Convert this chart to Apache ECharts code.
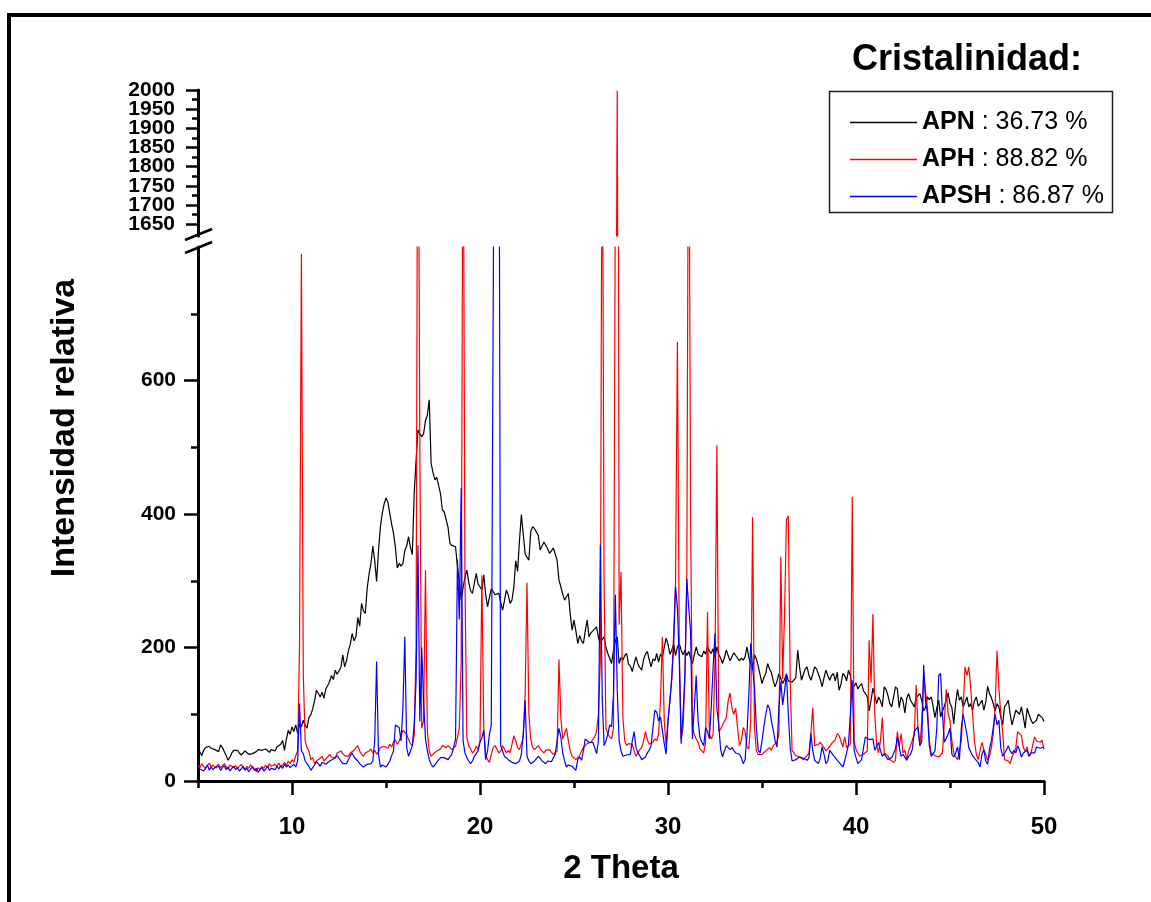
<!DOCTYPE html>
<html><head><meta charset="utf-8">
<script src="https://cdn.jsdelivr.net/npm/echarts@6/dist/echarts.min.js"></script>
<style>html,body{margin:0;padding:0;background:#fff}#c{width:1151px;height:902px}</style>
</head><body><div id="c"></div>
<script>
// sampling grid of the patterns (2 Theta, degrees)
const thetaStart = 5, thetaStep = 0.1;

// APN (black) — one row per degree, 0.1° steps
const apn = [
40,44,38,46,50,48,52,49,51,47,
46,44,54,50,44,38,31,36,42,46,
44,46,42,39,41,45,44,40,42,41,
41,44,47,49,46,44,48,46,43,47,
48,45,51,49,55,61,46,62,76,70,
81,74,84,71,86,81,91,84,79,95,
99,108,120,136,131,126,133,124,138,143,
149,158,152,166,160,161,170,189,171,180,
195,205,221,210,216,245,232,266,255,251,
289,310,326,352,330,299,345,380,401,415,
424,418,401,385,371,350,319,326,322,326,
345,352,366,350,339,431,480,526,520,516,
520,540,548,571,476,462,451,455,456,430,
406,403,401,380,356,353,351,351,321,300,
271,290,305,316,298,285,281,296,311,295,
291,286,309,280,261,275,288,284,279,281,
281,268,256,270,286,279,266,271,290,330,
314,360,399,370,341,335,331,374,381,378,
376,368,346,352,358,356,348,341,345,349,
340,331,301,291,280,271,276,281,250,226,
241,225,206,218,210,206,225,241,216,222,
225,228,231,215,206,212,216,200,191,184,
176,196,210,216,176,185,181,188,191,175,
172,164,176,186,175,170,166,182,190,194,
182,171,183,180,191,178,190,186,200,214,
205,190,196,205,188,201,206,196,189,196,
188,194,194,176,189,201,190,192,186,195,
190,201,195,191,198,185,201,190,184,176,
185,196,188,180,186,192,188,186,180,184,
181,186,201,185,175,166,189,183,172,171,
146,155,161,176,168,162,150,141,150,161,
161,146,152,160,150,151,148,146,155,196,
170,151,160,168,171,158,151,160,171,168,
166,152,141,155,166,158,151,158,161,150,
163,136,145,161,158,150,166,158,137,142,
147,138,143,146,135,131,126,105,121,139,
128,116,126,120,111,141,137,128,116,111,
126,141,138,110,126,120,102,124,131,121,
116,111,125,126,131,120,105,110,126,122,
126,112,95,110,121,96,105,112,121,132,
116,110,86,116,137,121,126,111,118,126,
111,116,106,120,126,112,116,121,106,118,
142,131,125,116,105,116,111,96,84,111,
115,121,100,84,95,106,105,100,111,96,
79,109,100,92,86,84,91,100,101,95,
89];

// APH (red)
const aph = [
24,20,26,22,19,23,27,21,24,20,
22,25,20,23,26,21,18,24,22,20,
23,19,22,25,20,17,22,19,24,21,
18,14,20,17,22,19,24,20,26,22,
20,25,22,27,21,24,28,23,30,26,
32,28,38,45,200,790,160,60,50,45,
32,35,26,30,28,34,37,30,33,36,
40,36,38,34,42,40,45,41,38,37,
37,42,40,46,50,53,45,40,37,42,
44,45,48,42,46,40,44,50,48,52,
53,49,55,51,58,62,55,60,68,76,
74,70,62,56,53,68,200,1200,500,79,
90,316,74,45,37,40,42,45,44,48,
53,52,50,53,55,47,49,52,65,80,
180,1100,300,65,53,48,42,45,52,47,
60,308,80,40,32,28,40,50,53,48,
42,45,53,48,42,46,42,55,68,60,
50,47,56,65,130,297,100,62,50,47,
50,53,48,45,42,46,48,47,43,40,
40,45,182,95,63,65,79,60,45,37,
35,32,34,38,45,50,53,56,55,58,
60,66,74,100,180,1100,300,79,70,66,
63,80,900,1998,234,313,95,60,53,56,
58,55,45,37,42,47,50,60,74,62,
55,53,58,63,60,70,120,216,90,53,
90,120,153,220,297,658,200,63,80,153,
300,1150,400,80,70,63,58,48,45,42,
58,253,70,63,70,180,503,74,78,84,
84,95,120,132,110,100,109,80,53,60,
80,74,51,48,90,395,80,45,40,41,
40,42,45,47,50,46,53,55,59,70,
336,153,250,391,397,150,46,42,38,37,
36,35,32,34,38,42,70,110,53,51,
55,58,56,50,45,48,52,56,58,62,
71,68,60,51,66,50,52,55,426,60,
47,42,37,38,40,42,45,211,147,250,
100,53,42,60,95,42,41,38,32,30,
28,31,74,51,71,42,46,32,45,53,
53,70,144,76,53,90,158,160,110,60,
42,41,38,37,36,38,42,90,137,101,
90,60,42,36,32,34,60,110,171,158,
171,140,100,60,40,32,45,58,47,40,
31,37,50,70,110,195,140,101,74,32,
32,30,26,36,42,50,74,71,68,50,
45,51,37,41,42,66,60,58,58,61,
47];

// APSH (blue)
const apsh = [
22,18,20,15,19,24,16,21,17,20,
18,22,16,20,23,17,21,15,19,22,
17,20,15,18,22,16,19,14,18,21,
16,19,13,17,20,15,18,22,16,19,
20,17,22,18,23,19,25,21,24,20,
22,25,21,30,116,45,41,30,26,22,
16,20,24,29,26,22,28,30,25,27,
30,28,33,35,38,39,30,26,28,26,
32,38,42,36,34,30,26,24,21,23,
25,24,26,30,60,179,40,21,24,22,
21,25,30,38,45,84,86,80,60,110,
216,50,37,45,53,84,150,353,89,200,
120,63,45,32,25,21,24,28,32,35,
37,35,33,32,36,40,50,63,332,242,
439,60,42,35,30,26,30,37,35,45,
58,65,76,32,45,70,84,700,1300,1400,
1200,53,45,37,35,32,30,28,27,26,
26,30,40,70,121,37,30,26,28,30,
32,37,34,30,28,26,30,32,29,30,
40,60,79,66,42,30,21,24,26,22,
21,16,32,36,31,45,63,61,58,60,
58,50,41,60,354,126,53,60,70,84,
81,130,279,136,60,45,37,37,39,41,
40,60,74,50,42,38,32,31,36,42,
46,53,80,106,103,90,96,95,56,40,
90,120,155,200,291,260,181,56,100,161,
303,260,226,63,110,158,90,65,58,53,
80,74,63,110,170,221,109,84,47,36,
45,53,51,47,50,46,42,44,40,35,
26,32,70,130,206,170,140,80,46,42,
60,81,100,114,109,90,76,60,51,110,
149,114,135,161,100,50,30,28,32,34,
36,37,34,32,31,35,71,45,31,30,
26,35,51,40,26,30,46,42,38,35,
31,28,26,21,30,42,55,100,151,46,
35,26,24,32,50,66,68,62,61,63,
46,52,58,46,37,41,41,32,31,35,
37,48,66,51,37,40,38,31,37,40,
48,74,78,81,53,60,174,120,101,53,
37,36,45,80,158,161,100,58,60,70,
79,40,36,42,51,32,79,100,85,70,
50,44,38,34,31,28,21,40,47,30,
25,48,60,80,100,84,91,50,37,36,
46,53,45,41,46,42,53,46,36,42,
44,46,37,42,41,42,51,53,49,47,
51];

const seriesNames = ['APN', 'APH', 'APSH'];
const crystallinity = ['36.73 %', '88.82 %', '86.87 %'];
const seriesColors = ['#000000', '#ff0000', '#0000ff'];

const xMajorTicks = [10, 20, 30, 40, 50];
const xMinorTicks = [5, 15, 25, 35, 45];
const yLowMajorTicks = [0, 200, 400, 600];
const yLowMinorTicks = [100, 300, 500, 700];
const yUpMajorTicks = [1650, 1700, 1750, 1800, 1850, 1900, 1950, 2000];
const yUpMinorTicks = [1675, 1725, 1775, 1825, 1875, 1925, 1975];

// upper labels split over two coincident axes so that none is dropped as overlapping
const yUpLabelsA = yUpMajorTicks.filter((v, i) => i % 2 === 0);
const yUpLabelsB = yUpMajorTicks.filter((v, i) => i % 2 === 1);

const FONT = "'Liberation Sans', Arial, Helvetica, sans-serif";

function pairs(arr) {
  return arr.map((v, i) => [+(thetaStart + i * thetaStep).toFixed(2), v]);
}
const plain = (v) => String(v);

const axisLineStyle = { color: '#000', width: 3 };
const tickLine = { color: '#000', width: 2.5 };
const upLabelStyle = { formatter: plain, showMinLabel: true, showMaxLabel: true, hideOverlap: false,
  color: '#000', fontSize: 21, lineHeight: 18, fontWeight: 'bold', fontFamily: FONT, margin: 23 };

const chart = echarts.init(document.getElementById('c'), null, { renderer: 'canvas' });

const lowerSeries = [apn, aph, apsh].map((arr, k) => ({
  name: seriesNames[k], type: 'line', xAxisIndex: 1, yAxisIndex: 2,
  data: pairs(arr), showSymbol: false, symbol: 'none', clip: true,
  lineStyle: { color: seriesColors[k], width: 1.2 }, itemStyle: { color: seriesColors[k] },
  z: 2 + k
}));
const upperSeries = {
  name: 'APH', type: 'line', xAxisIndex: 0, yAxisIndex: 0,
  data: pairs(aph), showSymbol: false, symbol: 'none', clip: true,
  lineStyle: { color: seriesColors[1], width: 1.2 }, itemStyle: { color: seriesColors[1] }
};

chart.setOption({
  animation: false,
  backgroundColor: '#ffffff',
  grid: [
    { left: 198, right: 107, top: 90, height: 146, containLabel: false },
    { left: 198, right: 107, top: 247, height: 534, containLabel: false }
  ],
  xAxis: [
    { gridIndex: 0, type: 'value', min: 5, max: 50, show: false },
    { gridIndex: 1, type: 'value', min: 5, max: 50, position: 'bottom',
      axisLine: { lineStyle: axisLineStyle },
      axisTick: { customValues: xMajorTicks, length: 14, lineStyle: tickLine },
      axisLabel: { customValues: xMajorTicks, formatter: plain, showMinLabel: true, showMaxLabel: true, hideOverlap: false,
        color: '#000', fontSize: 24, fontWeight: 'bold', fontFamily: FONT, margin: 34 },
      splitLine: { show: false },
      name: '2 Theta', nameLocation: 'middle', nameGap: 71,
      nameTextStyle: { color: '#000', fontSize: 33, fontWeight: 'bold', fontFamily: FONT } },
    { gridIndex: 1, type: 'value', min: 5, max: 50, position: 'bottom',
      axisLine: { show: false },
      axisTick: { customValues: xMinorTicks, length: 7, lineStyle: tickLine },
      axisLabel: { show: false }, splitLine: { show: false } }
  ],
  yAxis: [
    { gridIndex: 0, type: 'value', min: 1619, max: 2000, position: 'left',
      axisLine: { show: true, lineStyle: axisLineStyle },
      axisTick: { show: true, customValues: yUpMajorTicks, length: 12, lineStyle: tickLine },
      axisLabel: Object.assign({ customValues: yUpLabelsA }, upLabelStyle),
      splitLine: { show: false } },
    { gridIndex: 0, type: 'value', min: 1619, max: 2000, position: 'left', offset: 0,
      axisLine: { show: false },
      axisTick: { show: true, customValues: yUpMinorTicks, length: 6, lineStyle: tickLine },
      axisLabel: Object.assign({ customValues: yUpLabelsB }, upLabelStyle),
      splitLine: { show: false } },
    { gridIndex: 1, type: 'value', min: 0, max: 800, position: 'left',
      axisLine: { show: true, lineStyle: axisLineStyle },
      axisTick: { show: true, customValues: yLowMajorTicks, length: 14, lineStyle: tickLine },
      axisLabel: { customValues: yLowMajorTicks, formatter: plain, showMinLabel: true, hideOverlap: false,
        color: '#000', fontSize: 21, fontWeight: 'bold', fontFamily: FONT, margin: 22 },
      splitLine: { show: false } },
    { gridIndex: 1, type: 'value', min: 0, max: 800, position: 'left', offset: 0,
      axisLine: { show: false },
      axisTick: { show: true, customValues: yLowMinorTicks, length: 7, lineStyle: tickLine },
      axisLabel: { show: false }, splitLine: { show: false } }
  ],
  legend: {
    data: seriesNames, orient: 'vertical', left: 845, top: 103,
    icon: 'rect', itemWidth: 67, itemHeight: 1.5, itemGap: 8,
    formatter: (name) => '{b|' + name + '} : ' + crystallinity[seriesNames.indexOf(name)],
    textStyle: { color: '#000', fontSize: 25, fontFamily: FONT, lineHeight: 29,
      rich: { b: { fontWeight: 'bold', fontSize: 25, fontFamily: FONT, color: '#000' } } }
  },
  graphic: [
    { type: 'rect', shape: { x: 9, y: 15, width: 1300, height: 1100 }, style: { fill: null, stroke: '#000', lineWidth: 4 }, silent: true },
    { type: 'rect', shape: { x: 829.5, y: 91.5, width: 283, height: 121 }, style: { fill: null, stroke: '#222', lineWidth: 1.5 }, silent: true },
    { type: 'text', left: 852, top: 42, style: { text: 'Cristalinidad:', fill: '#000', font: "bold 36px 'Liberation Sans', Arial, sans-serif" } },
    { type: 'text', x: 65, y: 428, rotation: Math.PI / 2,
      style: { text: 'Intensidad relativa', fill: '#000', font: "bold 34px 'Liberation Sans', Arial, sans-serif", align: 'center', verticalAlign: 'middle' } },
    { type: 'line', shape: { x1: 185, y1: 240, x2: 212, y2: 229 }, style: { stroke: '#000', lineWidth: 2.5 }, silent: true },
    { type: 'line', shape: { x1: 185, y1: 253, x2: 212, y2: 242 }, style: { stroke: '#000', lineWidth: 2.5 }, silent: true }
  ],
  series: [...lowerSeries, upperSeries]
});
</script>
</body></html>
